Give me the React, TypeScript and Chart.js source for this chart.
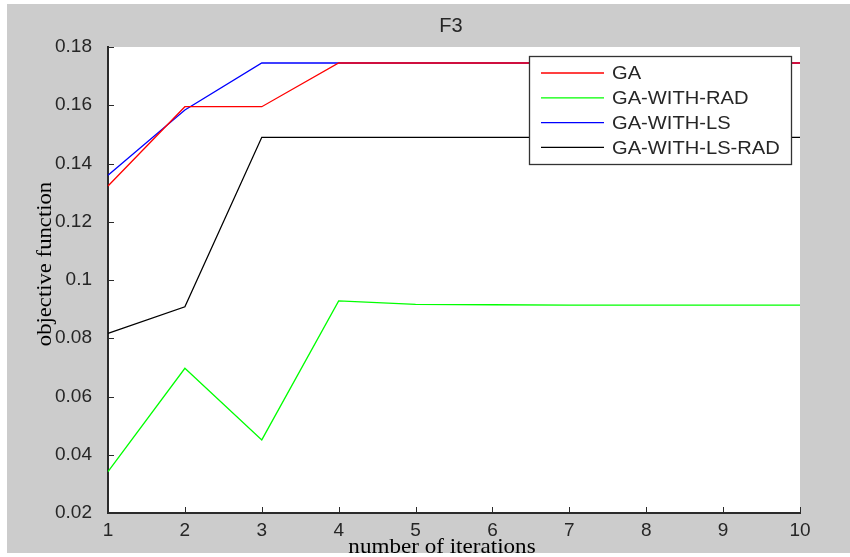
import React, { useEffect, useRef } from "react";
import { Chart, registerables } from "chart.js";

Chart.register(...registerables);

const iterations = ["1", "2", "3", "4", "5", "6", "7", "8", "9", "10"];
const gaValues = [0.1323, 0.1595, 0.1595, 0.1745, 0.1745, 0.1745, 0.1745, 0.1745, 0.1745, 0.1745];
const gaRadValues = [0.0342, 0.0697, 0.0451, 0.0928, 0.0916, 0.0915, 0.0914, 0.0914, 0.0914, 0.0914];
const gaLsValues = [0.136, 0.1584, 0.1745, 0.1745, 0.1745, 0.1745, 0.1745, 0.1745, 0.1745, 0.1745];
const gaLsRadValues = [0.0817, 0.0908, 0.149, 0.149, 0.149, 0.149, 0.149, 0.149, 0.149, 0.149];
const seriesNames = ["GA", "GA-WITH-RAD", "GA-WITH-LS", "GA-WITH-LS-RAD"];
const seriesColors = ["#ff0000", "#00ff00", "#0000ff", "#000000"];
const yTicks = [0.02, 0.04, 0.06, 0.08, 0.1, 0.12, 0.14, 0.16, 0.18];
const yTickLabels = ["0.02", "0.04", "0.06", "0.08", "0.1", "0.12", "0.14", "0.16", "0.18"];
const chartTitle = "F3";
const xAxisTitle = "number of iterations";
const yAxisTitle = "objective function";

const SANS = "'Liberation Sans', Arial, sans-serif";
const SERIF = "'Liberation Serif', 'Times New Roman', serif";
const AXIS_COLOR = "#2b2b2b";
const TEXT_COLOR = "#262626";

const decorPlugin = {
  id: "matlabDecor",
  beforeDraw(chart: any) {
    const { ctx, chartArea } = chart;
    ctx.save();
    ctx.fillStyle = "#ffffff";
    ctx.fillRect(0, 0, chart.width, chart.height);
    ctx.fillStyle = "#cccccc";
    ctx.fillRect(7, 4, chart.width - 7, 549);
    ctx.fillStyle = "#ffffff";
    ctx.fillRect(chartArea.left, chartArea.top, chartArea.right - chartArea.left, chartArea.bottom - chartArea.top);
    ctx.restore();
  },
  afterDraw(chart: any) {
    const { ctx, chartArea } = chart;
    const xs = chart.scales.x;
    const ys = chart.scales.y;
    ctx.save();
    // inward tick marks
    ctx.strokeStyle = AXIS_COLOR;
    ctx.lineWidth = 1;
    ctx.beginPath();
    iterations.forEach((_, i) => {
      const px = Math.round(xs.getPixelForValue(i)) + 0.5;
      ctx.moveTo(px, chartArea.bottom);
      ctx.lineTo(px, chartArea.bottom - 6);
    });
    yTicks.forEach((v) => {
      const py = Math.round(ys.getPixelForValue(v)) + 0.5;
      ctx.moveTo(chartArea.left, py);
      ctx.lineTo(chartArea.left + 6, py);
    });
    ctx.stroke();

    // title
    ctx.fillStyle = TEXT_COLOR;
    ctx.font = `20px ${SANS}`;
    ctx.textAlign = "center";
    ctx.textBaseline = "middle";
    ctx.fillText(chartTitle, 451, 26);

    // axis titles
    ctx.fillStyle = "#000000";
    ctx.font = `21px ${SERIF}`;
    ctx.textAlign = "center";
    ctx.textBaseline = "alphabetic";
    ctx.save();
    ctx.translate(442, 553);
    ctx.scale(1.1, 1);
    ctx.fillText(xAxisTitle, 0, 0);
    ctx.restore();
    ctx.save();
    ctx.translate(51, 264);
    ctx.rotate(-Math.PI / 2);
    ctx.scale(1.08, 1);
    ctx.fillText(yAxisTitle, 0, 0);
    ctx.restore();

    // legend
    const bx = 529, by = 56, bw = 262, bh = 108;
    ctx.fillStyle = "#ffffff";
    ctx.fillRect(bx, by, bw, bh);
    ctx.strokeStyle = "#333333";
    ctx.lineWidth = 1.3;
    ctx.strokeRect(bx + 0.5, by + 0.5, bw, bh);
    ctx.font = `19px ${SANS}`;
    ctx.textAlign = "left";
    ctx.textBaseline = "middle";
    chart.data.datasets.forEach((ds: any, i: number) => {
      const ry = by + 17 + i * 24.8;
      ctx.strokeStyle = ds.borderColor;
      ctx.lineWidth = 1.3;
      ctx.beginPath();
      ctx.moveTo(541, ry);
      ctx.lineTo(604, ry);
      ctx.stroke();
      ctx.fillStyle = TEXT_COLOR;
      ctx.save();
      ctx.translate(612, ry + 1);
      ctx.scale(1.06, 1);
      ctx.fillText(ds.label, 0, 0);
      ctx.restore();
    });
    ctx.restore();
  },
};

export default function App() {
  const canvasRef = useRef<HTMLCanvasElement | null>(null);

  useEffect(() => {
    if (!canvasRef.current) return;
    const valuesList = [gaValues, gaRadValues, gaLsValues, gaLsRadValues];
    const chart = new Chart(canvasRef.current, {
      type: "line",
      data: {
        labels: iterations,
        datasets: seriesNames.map((name, i) => ({
          label: name,
          data: valuesList[i],
          borderColor: seriesColors[i],
          backgroundColor: seriesColors[i],
          borderWidth: 1.3,
          pointRadius: 0,
          tension: 0,
          fill: false,
        })),
      },
      options: {
        animation: false,
        responsive: false,
        devicePixelRatio: 1,
        layout: { padding: { top: 47, right: 50, bottom: 0, left: 0 } },
        plugins: {
          legend: { display: false },
          title: { display: false },
          tooltip: { enabled: false },
        },
        scales: {
          x: {
            type: "category",
            offset: false,
            grid: { display: false },
            border: { display: true, color: AXIS_COLOR, width: 2 },
            ticks: {
              color: TEXT_COLOR,
              font: { family: SANS, size: 19 },
              padding: -2,
              maxRotation: 0,
              autoSkip: false,
            },
            afterFit: (scale: any) => {
              scale.height = 44;
            },
          },
          y: {
            type: "linear",
            min: 0.02,
            max: 0.18,
            grid: { display: false },
            border: { display: true, color: AXIS_COLOR, width: 2 },
            afterBuildTicks: (scale: any) => {
              scale.ticks = yTicks.map((v) => ({ value: v }));
            },
            ticks: {
              color: TEXT_COLOR,
              font: { family: SANS, size: 19 },
              padding: 8,
              callback: (value: any) => {
                const idx = yTicks.findIndex((t) => Math.abs(t - Number(value)) < 1e-9);
                return idx >= 0 ? yTickLabels[idx] : "";
              },
            },
            afterFit: (scale: any) => {
              scale.width = 108;
            },
          },
        },
      },
      plugins: [decorPlugin],
    });
    return () => chart.destroy();
  }, []);

  return (
    <div style={{ position: "absolute", left: 0, top: 0, width: 850, height: 557 }}>
      <canvas ref={canvasRef} width={850} height={557} style={{ width: 850, height: 557, display: "block" }} />
    </div>
  );
}
